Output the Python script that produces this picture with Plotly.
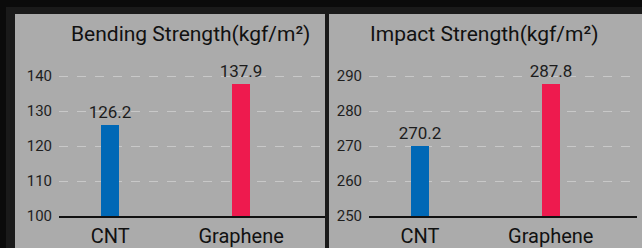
import plotly.graph_objects as go

categories = ["CNT", "Graphene"]
bending_values = [126.2, 137.9]
impact_values = [270.2, 287.8]
bar_colors = ["#0068b6", "#ee1a4e"]
titles = ["Bending Strength(kgf/m²)", "Impact Strength(kgf/m²)"]
bending_ticks = [100, 110, 120, 130, 140]
impact_ticks = [250, 260, 270, 280, 290]

W, H = 642, 248
FONT = "Roboto"

def px(x):
    return x / W

def py(y):
    return 1 - y / H

fig = go.Figure()

for i, (vals, axis_sfx) in enumerate([(bending_values, ""), (impact_values, "2")]):
    fig.add_trace(go.Bar(
        x=categories, y=vals,
        marker=dict(color=bar_colors, line=dict(width=0)),
        width=0.137,
        text=[f"{v:.1f}" for v in vals],
        textposition="outside",
        constraintext="none",
        cliponaxis=False,
        textfont=dict(family=FONT, size=17, color="#1c1c1c"),
        xaxis="x" + axis_sfx, yaxis="y" + axis_sfx,
        showlegend=False,
        hoverinfo="skip",
    ))

ybot = py(216)
ytop = py(216 - 45 * 3.5)

common_x = dict(
    type="category", range=[-0.39, 1.64], showgrid=False, zeroline=False,
    showline=True, linecolor="#111111", linewidth=1.5, ticks="",
    tickfont=dict(family=FONT, size=20, color="#111111"),
    ticklabelstandoff=1, fixedrange=True, automargin=False,
)
common_y = dict(
    showgrid=True, gridcolor="#c8c8c8", griddash="dash", gridwidth=1,
    zeroline=False, showline=False, ticks="",
    tickfont=dict(family=FONT, size=15, color="#1e1e1e"),
    ticklabelstandoff=6, domain=[ybot, ytop], fixedrange=True, automargin=False,
)

fig.update_layout(
    width=W, height=H,
    autosize=False,
    margin=dict(l=0, r=0, t=0, b=0, pad=0, autoexpand=False),
    paper_bgcolor="#0b0b0b",
    plot_bgcolor="rgba(0,0,0,0)",
    bargap=0,
    xaxis=dict(**common_x, domain=[px(59), px(325)]),
    yaxis=dict(**common_y, range=[100, 145], tickvals=bending_ticks),
    xaxis2=dict(**dict(common_x, range=[-0.39, 1.66]), domain=[px(369), px(637)], anchor="y2"),
    yaxis2=dict(**common_y, range=[250, 295], tickvals=impact_ticks, anchor="x2"),
    shapes=[
        dict(type="rect", xref="paper", yref="paper", x0=px(6), x1=px(642), y0=0, y1=py(7),
             fillcolor="#1a1a1a", line=dict(width=0), layer="below"),
        dict(type="rect", xref="paper", yref="paper", x0=px(15), x1=px(325), y0=0, y1=py(14),
             fillcolor="#ababab", line=dict(width=0), layer="below"),
        dict(type="rect", xref="paper", yref="paper", x0=px(329), x1=px(642), y0=0, y1=py(14),
             fillcolor="#ababab", line=dict(width=0), layer="below"),
    ],
    annotations=[
        dict(text=titles[0], xref="paper", yref="paper", x=px(191), y=py(34),
             showarrow=False, xanchor="center", yanchor="middle",
             font=dict(family=FONT, size=21, color="#111111")),
        dict(text=titles[1], xref="paper", yref="paper", x=px(484), y=py(34),
             showarrow=False, xanchor="center", yanchor="middle",
             font=dict(family=FONT, size=21, color="#111111")),
    ],
)

fig.write_html(
    "out.html",
    config={"displayModeBar": False, "responsive": False},
    post_script="document.body.style.margin='0';document.body.style.overflow='hidden';",
)
